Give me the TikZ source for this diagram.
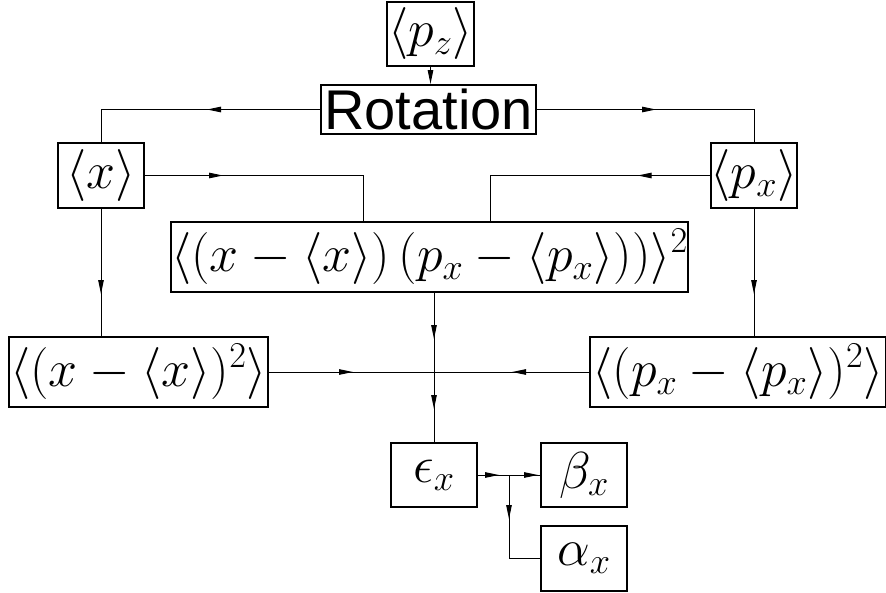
\documentclass[tikz,border=0pt]{standalone}
\usepackage{fix-cm}
\usepackage{fontspec}
\newfontfamily\labelfont{Liberation Sans}
\usetikzlibrary{arrows.meta, decorations.markings, calc}

\begin{document}
\begin{tikzpicture}[x=1pt, y=-1pt,
  box/.style={draw, line width=2pt, inner sep=0pt, align=center, font=\fontsize{52}{60}\selectfont},
  arr/.style={line width=1pt},
  tip at/.style={postaction={decorate, decoration={markings, mark=at position #1 with {\arrow{Triangle[length=14pt,width=5.5pt]}}}}},
]
\useasboundingbox (0,0) rectangle (886,592);

% ボックス
\node[box, minimum width=87pt, minimum height=64pt] (pz) at (430.5,33.5) {$\langle p_z\rangle$};
\node[box, minimum width=215pt, minimum height=49pt, font=\labelfont\fontsize{56}{60}\selectfont] (rot) at (428.5,109.5) {Rotation};
\node[box, minimum width=86pt, minimum height=65pt] (x) at (101,175.5) {$\langle x\rangle$};
\node[box, minimum width=86pt, minimum height=65pt] (px) at (754,175.5) {$\langle p_x\rangle$};
\node[box, minimum width=515pt, minimum height=70pt] (cov) at (429.5,257) {$\langle (x-\langle x\rangle)\,(p_x-\langle p_x\rangle))\rangle^2$};
\node[box, minimum width=259pt, minimum height=70pt] (xx) at (138.5,372) {$\langle (x-\langle x\rangle)^2\rangle$};
\node[box, minimum width=296pt, minimum height=70pt] (pp) at (738,372) {$\langle (p_x-\langle p_x\rangle)^2\rangle$};
\node[box, minimum width=86pt, minimum height=64pt] (eps) at (434,475) {$\epsilon_x$};
\node[box, minimum width=86pt, minimum height=64pt] (beta) at (584,475) {$\beta_x$};
\node[box, minimum width=86pt, minimum height=65pt] (alpha) at (584,558.5) {$\alpha_x$};

% 矢印
\draw[arr, -{Triangle[length=14pt,width=5.5pt]}] (pz.south) -- (pz.south |- rot.north);
\draw[arr, tip at=113pt] (rot.west) -| (x.north);
\draw[arr, tip at=119pt] (rot.east) -| (px.north);
\draw[arr, tip at=78pt] (x.east) -| ([xshift=-66.5pt]cov.north);
\draw[arr, tip at=72pt] (px.west) -| ([xshift=60.5pt]cov.north);
\draw[arr, tip at=85pt] (x.south) -- (x.south |- xx.north);
\draw[arr, tip at=85pt] (px.south) -- (px.south |- pp.north);

\coordinate (join) at (eps.north |- xx.east);
\draw[arr, tip at=46pt, tip at=116pt] (cov.south -| eps.north) -- (eps.north);
\draw[arr, tip at=84pt] (xx.east) -- (join);
\draw[arr, tip at=77pt] (pp.west) -- (join);

\coordinate (split) at ([xshift=31pt]eps.east);
\draw[arr, tip at=21pt, tip at=60pt] (eps.east) -- (beta.west);
\draw[arr, tip at=44pt] (split) |- (alpha.west);
\end{tikzpicture}
\end{document}
